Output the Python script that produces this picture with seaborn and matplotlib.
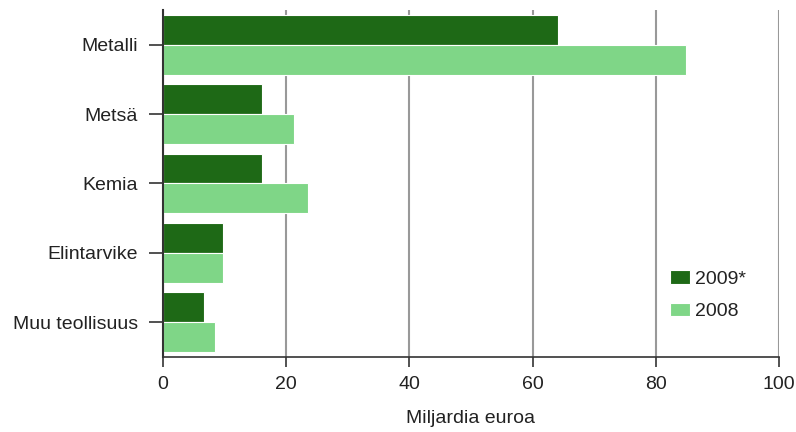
import matplotlib
matplotlib.use("Agg")
import matplotlib.pyplot as plt
import seaborn as sns
import pandas as pd

categories = ["Metalli", "Metsä", "Kemia", "Elintarvike", "Muu teollisuus"]
values_2009 = [64.1, 16.0, 16.0, 9.8, 6.7]
values_2008 = [84.9, 21.2, 23.6, 9.8, 8.5]
series = ["2009*", "2008"]
xticks = [0, 20, 40, 60, 80, 100]

df = pd.DataFrame({
    "Toimiala": categories * 2,
    "Arvo": values_2009 + values_2008,
    "Vuosi": [series[0]] * len(categories) + [series[1]] * len(categories),
})

sns.set_theme(style="white")
plt.rcParams['font.family'] = ['Liberation Sans', 'DejaVu Sans']

fig = plt.figure(figsize=(7.96, 4.32), dpi=100)
ax = fig.add_axes([0.2048, 0.1736, 0.7738, 0.8033])

palette = {"2009*": "#1e6916", "2008": "#7fd687"}
sns.barplot(data=df, y="Toimiala", x="Arvo", hue="Vuosi", order=categories,
            hue_order=series, palette=palette, width=0.86, orient="h",
            edgecolor="white", linewidth=0.8, saturation=1, ax=ax, zorder=3)

FS = 14
ax.set_xlim(0, 100)
ax.set_ylim(4.5, -0.5)
ax.set_xticks(xticks)
ax.set_xticklabels([str(t) for t in xticks], fontsize=FS, color="#222222")
ax.tick_params(axis="y", labelsize=FS, labelcolor="#222222")
ax.xaxis.grid(True, color="#999999", linewidth=1.5, zorder=0)
ax.set_axisbelow(True)
ax.tick_params(axis="x", direction="out", length=7, width=1.2, color="#333333", pad=7)
ax.tick_params(axis="y", direction="out", length=10, width=1.2, color="#333333", pad=8)
ax.tick_params(bottom=True, left=True)
sns.despine(ax=ax, top=True, right=True)
for side in ("left", "bottom"):
    ax.spines[side].set_color("#333333")
    ax.spines[side].set_zorder(6)
ax.spines["left"].set_linewidth(1.5)
ax.spines["bottom"].set_linewidth(1.2)
ax.set_ylabel("")
ax.set_xlabel("Miljardia euroa", fontsize=FS, color="#222222", labelpad=12)

leg = ax.legend(loc="upper left", bbox_to_anchor=(0.795, 0.30), frameon=False,
                fontsize=FS, handlelength=1.0, handleheight=0.7,
                handletextpad=0.3, labelspacing=0.75)
for txt in leg.get_texts():
    txt.set_color("#222222")

fig.savefig("out.png", dpi=100, facecolor="white")
